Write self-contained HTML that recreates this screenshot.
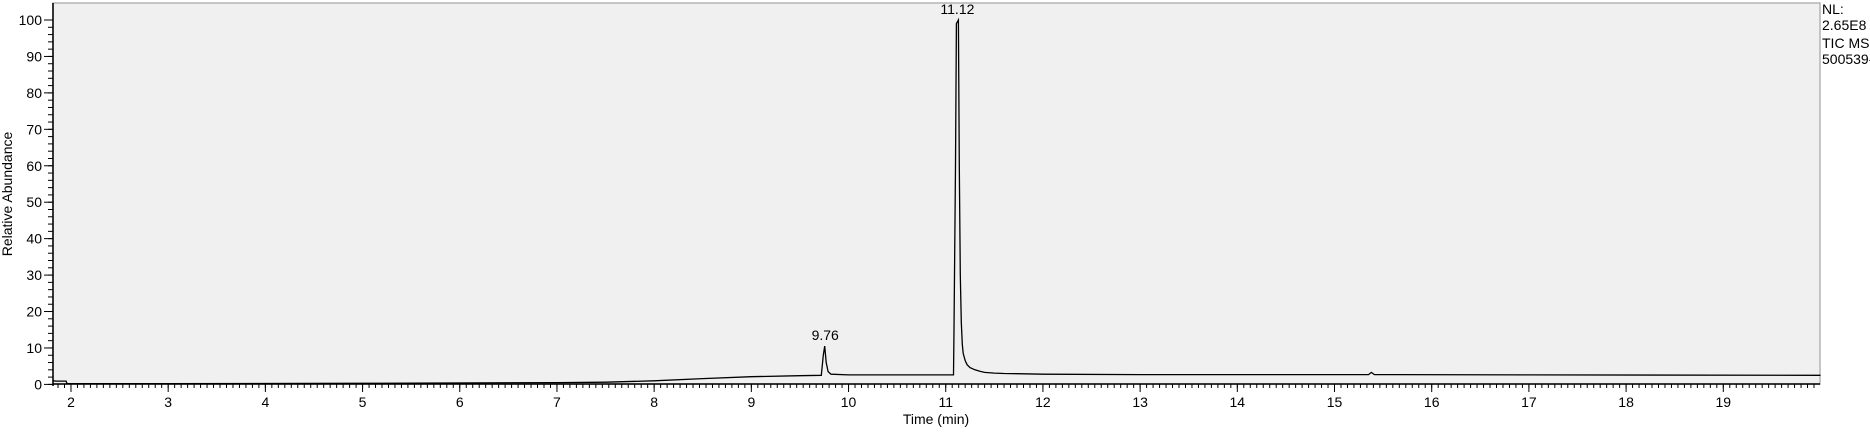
<!DOCTYPE html>
<html><head><meta charset="utf-8"><style>
body{margin:0;background:#fff;width:1870px;height:430px;overflow:hidden;font-family:"Liberation Sans",sans-serif;}
svg text{font-family:"Liberation Sans",sans-serif;fill:#000;}
</style></head><body>
<svg id="chart" width="1870" height="430" xmlns="http://www.w3.org/2000/svg">
<rect x="53" y="3" width="1767" height="381" fill="#f0f0f0" stroke="#b4b4b4" stroke-width="1.5"/>
<g id="xaxis"></g>
<g id="yaxis"></g>
<path id="trace" fill="none" stroke="#000" stroke-width="1.3"/>
<g id="labels"></g>
<text transform="translate(12,194) rotate(-90)" text-anchor="middle" font-size="14">Relative Abundance</text>
<text x="936" y="424" text-anchor="middle" font-size="14">Time (min)</text>
<text x="1822" y="14" font-size="14">NL:</text>
<text x="1822" y="30" font-size="14">2.65E8</text>
<text x="1822" y="48" font-size="14">TIC  MS</text>
<text x="1822" y="64" font-size="14">500539-</text>
</svg>
<script>
const times = [1.82,1.85,1.95,1.96,3,5,7,7.5,8,8.5,9,9.5,9.72,9.74,9.755,9.77,9.79,9.82,10,11.07,11.08,11.085,11.1,11.11,11.13,11.14,11.15,11.16,11.17,11.18,11.2,11.22,11.25,11.3,11.35,11.4,11.5,11.6,11.8,12,13,15.35,15.38,15.41,17,20];
const abundance = [1.0,0.9,0.9,0.2,0.2,0.3,0.5,0.6,1.0,1.6,2.1,2.4,2.5,8,10.5,6,3.5,2.8,2.6,2.6,2.6,15,60,99,100,60,30,17,11,8.5,6.5,5.4,4.6,4.0,3.6,3.3,3.1,3.0,2.9,2.8,2.7,2.7,3.3,2.7,2.6,2.5];
const xTicks = [2,3,4,5,6,7,8,9,10,11,12,13,14,15,16,17,18,19];
const yTicks = [0,10,20,30,40,50,60,70,80,90,100];
const peakTimes = [9.76,11.12];
const peakHeights = [10.5,100];
const peakLabels = ["9.76","11.12"];
const X0=53,X1=1820,TMIN=1.815,TMAX=19.995,Y0=384.4,PPU=3.644;
const ns="http://www.w3.org/2000/svg";
function sx(t){return X0+(t-TMIN)/(TMAX-TMIN)*(X1-X0);}
function sy(v){return Y0-v*PPU;}
function mk(tag,attrs,parent){const e=document.createElementNS(ns,tag);for(const k in attrs)e.setAttribute(k,attrs[k]);parent.appendChild(e);return e;}
const xa=document.getElementById('xaxis'),ya=document.getElementById('yaxis');
mk('line',{x1:X0,x2:X1,y1:384,y2:384,stroke:'#000','stroke-width':1.5},xa);
mk('line',{x1:X0,x2:X0,y1:3,y2:386,stroke:'#000','stroke-width':1.5},ya);
for(let i=Math.ceil(TMIN*15);i<=TMAX*15;i++){const x=sx(i/15);mk('line',{x1:x,x2:x,y1:384,y2:388,stroke:'#000','stroke-width':1},xa);}
xTicks.forEach(t=>{const x=sx(t);
const l=mk('line',{x1:x,x2:x,y1:384,y2:392,stroke:'#000','stroke-width':1},xa);


const tx=mk('text',{x:x,y:407,'text-anchor':'middle','font-size':14},xa);tx.textContent=t;

});
for(let v=0;v<=100;v+=2){const y=sy(v);mk('line',{x1:X0-5,x2:X0,y1:y,y2:y,stroke:'#000','stroke-width':1},ya);}
yTicks.forEach(v=>{const y=sy(v);
const l=mk('line',{x1:X0-9,x2:X0,y1:y,y2:y,stroke:'#000','stroke-width':1},ya);


const tx=mk('text',{x:X0-11,y:y+5,'text-anchor':'end','font-size':14},ya);tx.textContent=v;

});
document.getElementById('trace').setAttribute('d',times.map((t,i)=>(i?'L':'M')+sx(t).toFixed(1)+','+sy(abundance[i]).toFixed(1)).join(''));
const lg=document.getElementById('labels');
peakTimes.forEach((t,i)=>{const tx=mk('text',{x:sx(t),y:sy(peakHeights[i])-6,'text-anchor':'middle','font-size':14},lg);tx.textContent=peakLabels[i];

});
</script>
</body></html>
